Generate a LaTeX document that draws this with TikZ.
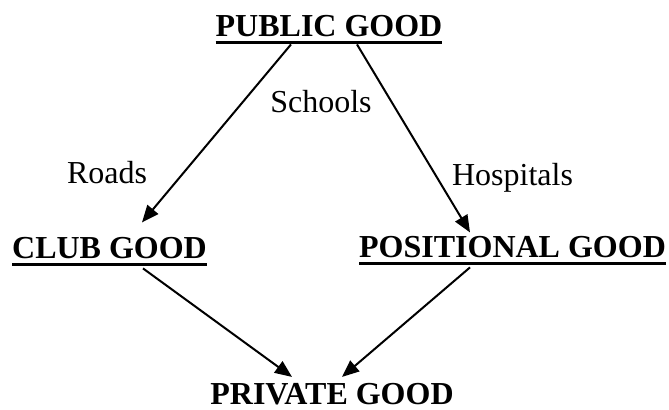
\documentclass[tikz,border=0pt]{standalone}
\usepackage{fontspec}
\setmainfont{Liberation Serif}
\usetikzlibrary{arrows.meta}
\newcommand{\goodline}[1]{\setbox0=\hbox{#1}\rlap{\copy0}\rule[-4pt]{\wd0}{1.6pt}}
\begin{document}
\begin{tikzpicture}[x=0.5pt, y=-0.5pt,
  good/.style={anchor=base, inner sep=0pt, font=\fontsize{16}{19}\selectfont\bfseries},
  lbl/.style={anchor=base, inner sep=0pt, font=\fontsize{16}{19}\selectfont},
  arr/.style={-{Triangle[length=8.5pt,width=7pt]}, line width=1pt}]
\useasboundingbox (0,0) rectangle (669,409);
\node[good] (pub) at (329, 36) {\goodline{PUBLIC GOOD}};
\node[good] (club) at (109.5, 258) {\goodline{CLUB GOOD}};
\node[good] (pos) at (512.5, 257) {\goodline{POSITIONAL GOOD}};
\node[good] (priv) at (332, 404.5) {PRIVATE GOOD};
\node[lbl] (schools) at (321, 112) {Schools};
\node[lbl] (roads) at (107, 183) {Roads};
\node[lbl] (hosp) at (512.5, 185) {Hospitals};

% edges
\draw[arr] ([xshift=-19pt]pub.south) -- ([xshift=16.25pt, yshift=7pt]club.north); % public to club
\draw[arr] ([xshift=14pt]pub.south) -- ([xshift=-21.25pt, yshift=1.5pt]pos.north); % public to positional
\draw[arr] ([xshift=16.75pt, yshift=-1pt]club.south) -- ([xshift=-20pt, yshift=3pt]priv.north); % club to private
\draw[arr] ([xshift=-21.25pt, yshift=-1pt]pos.south) -- ([xshift=5pt, yshift=3pt]priv.north); % positional to private
\end{tikzpicture}
\end{document}
